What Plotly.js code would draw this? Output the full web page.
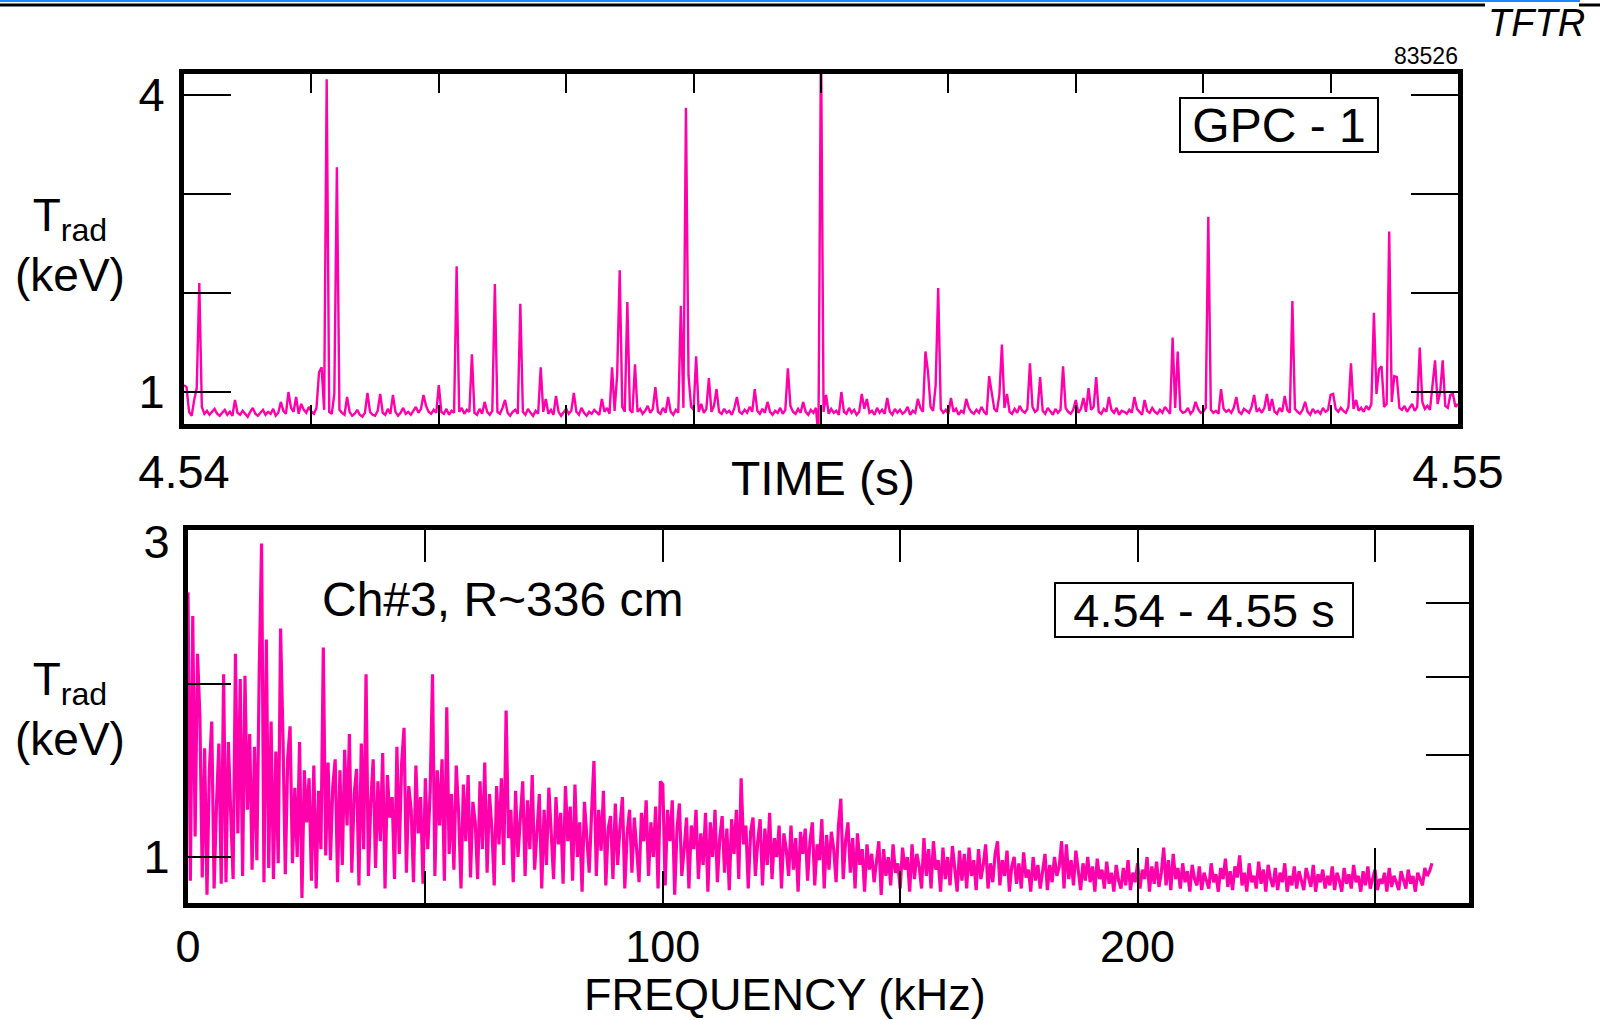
<!DOCTYPE html>
<html>
<head>
<meta charset="utf-8">
<script src="https://cdn.plot.ly/plotly-3.0.1.min.js"></script>
<style>html,body{margin:0;padding:0;background:#fff;}#chart{width:1600px;height:1020px;}</style>
</head>
<body>
<div id="chart"></div>
<script>
// ---------- DATA ----------
// Top panel: GPC-1 radiation temperature time trace, sampled every 20 microseconds from 4.54 s
const timeStart = 4.54;      // s
const timeStep = 0.00002;    // s (sample spacing)
const gpcTrad = [
1.07,1.05,0.80,0.76,0.92,1.04,2.10,0.85,0.78,0.81,
0.77,0.80,0.83,0.78,0.76,0.79,0.82,0.77,0.80,0.76,
0.92,0.79,0.77,0.81,0.78,0.75,0.80,0.84,0.78,0.76,
0.79,0.82,0.77,0.80,0.78,0.83,0.76,0.79,0.90,0.81,
0.78,1.00,0.84,0.80,0.95,0.78,0.88,0.82,0.79,0.85,
0.80,0.78,0.84,1.20,1.25,0.82,4.16,0.80,0.78,0.98,
3.27,0.82,0.79,0.77,0.95,0.80,0.76,0.78,0.82,0.77,
0.75,0.79,0.99,0.80,0.77,0.76,0.81,0.98,0.79,0.77,
0.83,0.78,0.97,0.80,0.76,0.79,0.84,0.78,0.80,0.77,
0.81,0.85,0.79,0.83,0.97,0.86,0.80,0.78,0.82,0.79,
1.07,0.80,0.78,0.83,0.77,0.81,0.79,2.27,0.80,0.84,
0.78,0.82,0.80,1.38,0.79,0.77,0.83,0.78,0.90,0.80,
0.77,0.81,2.09,0.80,0.78,0.84,0.92,0.79,0.76,0.80,
0.82,0.78,1.89,0.80,0.77,0.83,0.79,0.76,0.81,0.78,
1.25,0.80,0.93,0.78,0.82,0.77,0.96,0.80,0.76,0.79,
0.83,0.78,0.81,0.99,0.80,0.77,0.84,0.79,0.76,0.80,
0.78,0.82,0.79,0.77,0.93,0.80,0.84,0.78,1.25,0.81,
1.17,2.23,0.85,0.80,1.91,0.82,0.79,1.28,0.80,0.83,
0.78,0.81,0.86,0.79,0.83,1.05,0.80,0.78,0.84,0.79,
0.95,0.80,0.77,0.82,0.79,1.87,0.84,3.87,1.17,0.85,
0.82,1.36,0.80,0.88,0.79,0.83,1.14,0.80,0.86,1.03,
0.80,0.78,0.83,0.79,0.81,0.77,0.84,0.95,0.80,0.78,
0.82,0.79,0.85,0.80,1.03,0.81,0.78,0.83,0.79,0.90,
0.80,0.77,0.81,0.79,0.84,0.78,0.82,1.24,0.86,0.80,
0.78,0.83,0.79,0.90,0.80,0.77,0.82,0.79,0.84,0.55,
4.60,0.80,0.97,0.78,0.83,0.79,0.81,0.77,1.00,0.80,
0.78,0.84,0.79,0.82,0.77,0.80,0.98,0.83,0.93,0.79,
0.81,0.77,0.84,0.79,0.82,0.78,0.94,0.80,0.77,0.83,
0.79,0.82,0.78,0.80,0.85,0.77,0.81,0.79,0.93,0.84,
0.80,1.41,1.20,0.85,0.81,1.07,2.05,0.83,0.79,0.82,
0.78,0.94,0.80,0.83,0.77,0.81,0.79,0.93,0.84,0.80,
0.78,0.82,0.79,0.85,0.80,0.77,1.16,0.98,0.83,0.80,
0.97,1.48,0.84,0.98,0.80,0.78,0.83,0.79,0.86,0.81,
0.79,0.83,1.29,0.85,0.80,0.82,1.15,0.81,0.78,0.84,
0.80,0.77,0.83,0.79,0.82,1.26,0.84,0.80,0.78,0.82,
0.92,0.79,0.83,0.94,0.80,1.04,0.82,0.85,1.15,0.80,
0.78,0.83,0.80,0.95,0.82,0.79,0.84,0.77,0.81,0.80,
0.78,0.82,0.79,0.95,0.83,0.80,0.77,0.92,0.81,0.79,
0.84,0.80,0.78,0.82,0.79,0.85,0.81,0.78,1.55,0.84,
1.41,0.82,0.79,0.80,0.84,0.78,0.81,0.90,0.83,0.79,
0.80,0.84,2.77,0.82,0.79,0.81,0.78,1.03,0.83,0.80,
0.82,0.79,0.84,0.95,0.80,0.78,0.83,0.81,0.79,0.85,
0.97,0.80,0.83,0.79,0.84,0.98,0.81,0.93,0.80,0.78,
0.84,0.80,0.96,0.82,0.79,1.92,0.83,0.80,0.78,0.82,
0.90,0.80,0.77,0.83,0.79,0.81,0.78,0.84,0.80,0.82,
0.97,0.98,0.83,0.80,0.84,0.81,0.79,0.85,1.29,0.83,
0.92,0.81,0.84,0.80,0.86,0.82,0.88,1.80,0.98,1.23,
1.26,0.85,0.88,2.62,0.90,1.16,1.15,0.84,0.82,0.86,
0.80,0.84,0.88,0.81,0.85,1.45,0.90,0.83,0.86,0.82,
1.07,1.32,0.88,1.00,1.32,0.86,0.84,0.97,0.98,0.85,
0.88
];

// Bottom panel: spectrum of Trad, 0.5 kHz bins from 0 kHz
const freqStart = 0;     // kHz
const freqStep = 0.5;    // kHz (bin width)
const specTrad = [
2.68,0.85,2.53,1.13,2.29,1.90,0.87,1.69,0.76,1.55,
1.86,0.80,1.33,1.72,0.83,2.16,0.84,1.73,1.28,0.86,
2.29,1.15,2.13,0.88,2.15,1.30,1.78,0.92,1.70,0.98,
2.17,2.99,0.84,2.38,0.93,1.86,0.86,1.67,0.96,2.45,
1.76,0.89,1.63,1.83,0.96,1.44,1.00,1.73,0.74,1.55,
1.22,1.50,0.85,1.58,0.80,1.42,1.05,2.33,1.01,1.60,
0.98,1.45,1.62,0.84,1.55,0.95,1.68,1.20,1.78,0.90,
1.40,1.56,0.82,1.72,1.05,2.16,0.88,1.35,1.62,0.93,
1.48,1.10,1.66,0.80,1.52,1.25,1.38,0.86,1.70,1.02,
1.60,1.82,0.90,1.45,1.30,0.84,1.58,1.15,1.38,0.83,
1.50,1.05,1.42,2.16,0.88,1.55,1.20,1.62,0.85,1.95,
1.02,1.40,0.92,1.58,1.28,0.80,1.46,1.10,1.52,0.87,
1.35,1.22,0.86,1.48,1.05,1.60,0.90,1.40,1.18,0.82,
1.45,1.08,1.50,0.95,1.93,1.12,1.30,0.84,1.42,1.00,
1.25,1.48,0.88,1.36,1.05,1.52,0.92,1.20,1.40,0.80,
1.30,0.95,1.44,1.15,0.86,1.38,1.08,1.28,0.83,1.45,
1.10,1.32,0.85,1.46,1.00,1.22,0.78,1.35,1.12,0.90,
1.28,1.61,0.88,1.30,1.04,1.42,0.82,1.18,1.26,0.86,
1.34,0.95,1.20,1.38,0.80,1.15,1.30,0.90,1.25,1.05,
0.84,1.28,1.10,1.36,0.88,1.22,1.00,1.32,0.80,1.48,
1.46,0.82,1.30,1.10,1.36,0.76,1.18,1.34,0.88,1.05,
1.25,0.80,1.20,1.05,1.30,0.86,1.15,0.95,1.28,0.78,
1.22,1.00,1.30,0.84,1.12,1.26,0.90,1.18,0.79,1.24,
1.02,1.30,0.86,1.50,1.08,1.20,0.80,1.16,1.25,0.88,
1.10,1.24,0.82,1.18,0.95,1.28,0.86,1.12,1.00,1.20,
0.80,1.15,1.05,0.88,1.20,0.92,1.12,0.78,1.16,1.02,
1.18,0.85,1.10,1.22,0.82,1.08,0.98,1.24,0.80,1.14,
0.92,1.16,1.05,0.84,1.20,1.37,0.86,1.10,1.22,0.90,
1.12,0.80,1.15,0.95,1.05,0.78,1.08,0.92,1.02,0.84,
0.98,1.10,0.76,1.05,0.88,1.00,0.82,1.08,0.90,0.96,
0.80,1.06,0.92,1.00,0.78,1.08,0.86,1.02,0.94,0.80,
1.12,0.88,1.05,0.80,1.10,0.92,0.98,0.78,1.06,0.86,
1.00,0.82,1.07,0.90,0.78,1.04,0.85,1.02,0.80,1.06,
0.88,0.98,0.79,1.05,0.86,0.95,1.08,0.80,0.96,0.84,
1.02,1.10,0.82,0.98,0.88,1.04,0.78,0.94,1.00,0.83,
0.96,0.80,1.03,0.87,0.92,0.78,1.00,0.85,0.95,0.80,
0.90,1.02,0.79,0.95,0.84,1.00,0.88,0.94,1.10,0.80,
1.08,0.86,0.98,0.82,1.04,0.90,0.79,0.96,0.85,1.00,
0.84,0.94,0.78,0.99,0.86,0.92,0.80,0.97,0.83,0.90,
0.78,0.95,0.85,0.80,0.93,0.82,0.98,0.79,0.90,0.84,
0.96,0.80,0.92,0.86,1.00,0.78,0.94,0.83,0.97,0.81,
0.90,1.06,0.82,0.98,0.79,1.02,0.86,0.93,0.80,0.96,
0.84,0.91,0.78,0.95,0.86,0.82,0.94,0.79,0.90,0.85,
0.80,0.96,0.84,0.89,0.78,0.93,0.86,0.99,0.81,0.91,
0.79,0.94,0.87,1.01,0.82,0.90,0.78,0.96,0.84,0.88,
0.80,0.97,0.83,0.92,0.78,0.95,0.86,0.81,0.93,0.79,
0.90,0.84,0.96,0.78,0.88,0.82,0.94,0.80,0.91,0.85,
0.79,0.93,0.86,0.81,0.95,0.78,0.89,0.84,0.92,0.80,
0.88,0.82,0.94,0.79,0.90,0.85,0.78,0.93,0.83,0.89,
0.80,0.95,0.84,0.88,0.78,0.91,0.82,0.94,0.80,0.87,
0.92,0.79,0.86,0.83,0.90,0.78,0.93,0.81,0.88,0.84,
0.79,0.91,0.85,0.80,0.92,0.83,0.88,0.78,0.90,0.86,
0.82,0.93,0.88,0.91,0.96
];

// Tick labels
const timeTickVals = [4.54,4.541,4.542,4.543,4.544,4.545,4.546,4.547,4.548,4.549,4.55];
const timeTickText = ['4.54','','','','','','','','','','4.55'];
const topYTickVals = [1,2,3,4];
const topYTickText = ['1','','','4'];
const freqTickVals = [0,50,100,150,200,250];
const freqTickText = ['0','','100','','200',''];
const botYLabelVals = [1,3];
const botYLabelText = ['1','3'];
const botYLeftTicks = [1,2.1];
const botYRightTicks = [1.18,1.65,2.14,2.61];
const botXLongTicks = [200,250];

// ---------- BUILD ----------
const time = gpcTrad.map((_, i) => timeStart + i * timeStep);
const freq = specTrad.map((_, i) => freqStart + i * freqStep);

const PINK = '#ff00aa';
const FONT = '"Liberation Sans", Arial, Helvetica, sans-serif';
const W = 1600, H = 1020;
const px = x => x / W;
const py = y => 1 - y / H;

const data = [
  {x: time, y: gpcTrad, xaxis: 'x', yaxis: 'y', type: 'scatter', mode: 'lines',
   line: {color: PINK, width: 2.4}, hoverinfo: 'skip'},
  {x: freq, y: specTrad, xaxis: 'x2', yaxis: 'y2', type: 'scatter', mode: 'lines',
   line: {color: PINK, width: 3.2}, hoverinfo: 'skip'},
  {x: [], y: [], xaxis: 'x2', yaxis: 'y3', type: 'scatter', mode: 'lines', hoverinfo: 'skip'},
  {x: [], y: [], xaxis: 'x2', yaxis: 'y4', type: 'scatter', mode: 'lines', hoverinfo: 'skip'},
  {x: [], y: [], xaxis: 'x3', yaxis: 'y2', type: 'scatter', mode: 'lines', hoverinfo: 'skip'}
];

const topDomX = [px(184), px(1458)];
const topDomY = [py(424), py(74)];
const botDomX = [px(188), px(1469)];
const botDomY = [py(903), py(530)];
const freqRange = [0, 269.8];
const botYRange = [0.708, 3.076];

const axisBase = {
  showgrid: false, zeroline: false, showline: true, linecolor: '#000', linewidth: 5,
  ticks: 'inside', tickcolor: '#000', tickwidth: 2, fixedrange: true,
  tickfont: {family: FONT, size: 47, color: '#000'}
};

const layout = {
  width: W, height: H,
  margin: {l: 0, r: 0, t: 0, b: 0, pad: 0},
  paper_bgcolor: '#fff', plot_bgcolor: '#fff',
  showlegend: false, hovermode: false,
  font: {family: FONT, color: '#000'},
  xaxis: Object.assign({}, axisBase, {
    domain: topDomX, anchor: 'y', range: [4.54, 4.55],
    tickmode: 'array', tickvals: timeTickVals, ticktext: timeTickText,
    ticklen: 19, mirror: 'ticks', ticklabelstandoff: 3
  }),
  yaxis: Object.assign({}, axisBase, {
    domain: topDomY, anchor: 'x', range: [0.677, 4.212],
    tickmode: 'array', tickvals: topYTickVals, ticktext: topYTickText,
    ticklen: 47, mirror: 'ticks', ticklabelstandoff: 5
  }),
  xaxis2: Object.assign({}, axisBase, {
    domain: botDomX, anchor: 'y2', range: freqRange,
    tickmode: 'array', tickvals: freqTickVals, ticktext: freqTickText,
    ticklen: 32, mirror: 'ticks', ticklabelstandoff: 0,
    tickfont: {family: FONT, size: 45, color: '#000'}
  }),
  xaxis3: {
    domain: botDomX, anchor: 'y2', overlaying: 'x2', side: 'bottom', range: freqRange,
    showgrid: false, zeroline: false, showline: false, showticklabels: false,
    ticks: 'inside', ticklen: 55, tickwidth: 2, tickcolor: '#000',
    tickmode: 'array', tickvals: botXLongTicks, fixedrange: true
  },
  yaxis2: Object.assign({}, axisBase, {
    domain: botDomY, anchor: 'x2', range: botYRange,
    tickmode: 'array', tickvals: botYLabelVals, ticktext: botYLabelText,
    ticks: '', mirror: true, ticklabelstandoff: 4
  }),
  yaxis3: {
    domain: botDomY, anchor: 'x2', overlaying: 'y2', side: 'left', range: botYRange,
    showgrid: false, zeroline: false, showline: false, showticklabels: false,
    ticks: 'inside', ticklen: 43, tickwidth: 2, tickcolor: '#000',
    tickmode: 'array', tickvals: botYLeftTicks, fixedrange: true
  },
  yaxis4: {
    domain: botDomY, anchor: 'x2', overlaying: 'y2', side: 'right', range: botYRange,
    showgrid: false, zeroline: false, showline: false, showticklabels: false,
    ticks: 'inside', ticklen: 43, tickwidth: 2, tickcolor: '#000',
    tickmode: 'array', tickvals: botYRightTicks, fixedrange: true
  },
  shapes: [
    {type: 'line', xref: 'paper', yref: 'paper', x0: 0, x1: px(1580), y0: py(1), y1: py(1),
     line: {color: '#1e88ff', width: 2}},
    {type: 'line', xref: 'paper', yref: 'paper', x0: 0, x1: px(1485), y0: py(5), y1: py(5),
     line: {color: '#000', width: 3}},
    {type: 'line', xref: 'paper', yref: 'paper', x0: px(1579), x1: 1, y0: py(5), y1: py(5),
     line: {color: '#000', width: 3}}
  ],
  annotations: [
    {xref: 'paper', yref: 'paper', x: px(1536), y: py(23), xanchor: 'center', yanchor: 'middle',
     text: 'TFTR', showarrow: false, font: {family: FONT, size: 38, style: 'italic', color: '#000'}},
    {xref: 'paper', yref: 'paper', x: px(1460), y: py(56), xanchor: 'right', yanchor: 'middle',
     text: '83526', showarrow: false, font: {family: FONT, size: 23, color: '#000'}},
    {xref: 'paper', yref: 'paper', x: px(1279), y: py(125), xanchor: 'center', yanchor: 'middle',
     text: 'GPC - 1', showarrow: false, width: 192, height: 48, borderpad: 2,
     bordercolor: '#000', borderwidth: 2, bgcolor: '#fff',
     font: {family: FONT, size: 48, color: '#000'}},
    {xref: 'paper', yref: 'paper', x: px(823), y: py(478), xanchor: 'center', yanchor: 'middle',
     text: 'TIME (s)', showarrow: false, font: {family: FONT, size: 48, color: '#000'}},
    {xref: 'paper', yref: 'paper', x: px(70), y: py(245), xanchor: 'center', yanchor: 'middle',
     text: 'T<sub>rad</sub><br>(keV)', showarrow: false, font: {family: FONT, size: 46, color: '#000'}},
    {xref: 'paper', yref: 'paper', x: px(70), y: py(709), xanchor: 'center', yanchor: 'middle',
     text: 'T<sub>rad</sub><br>(keV)', showarrow: false, font: {family: FONT, size: 46, color: '#000'}},
    {xref: 'paper', yref: 'paper', x: px(503), y: py(599), xanchor: 'center', yanchor: 'middle',
     text: 'Ch#3, R~336 cm', showarrow: false, font: {family: FONT, size: 48, color: '#000'}},
    {xref: 'paper', yref: 'paper', x: px(1204), y: py(610), xanchor: 'center', yanchor: 'middle',
     text: '4.54 - 4.55 s', showarrow: false, width: 292, height: 48, borderpad: 2,
     bordercolor: '#000', borderwidth: 2, bgcolor: '#fff',
     font: {family: FONT, size: 47, color: '#000'}},
    {xref: 'paper', yref: 'paper', x: px(785), y: py(994), xanchor: 'center', yanchor: 'middle',
     text: 'FREQUENCY (kHz)', showarrow: false, font: {family: FONT, size: 45, color: '#000'}}
  ]
};

Plotly.newPlot('chart', data, layout, {staticPlot: true, displayModeBar: false});
</script>
</body>
</html>
